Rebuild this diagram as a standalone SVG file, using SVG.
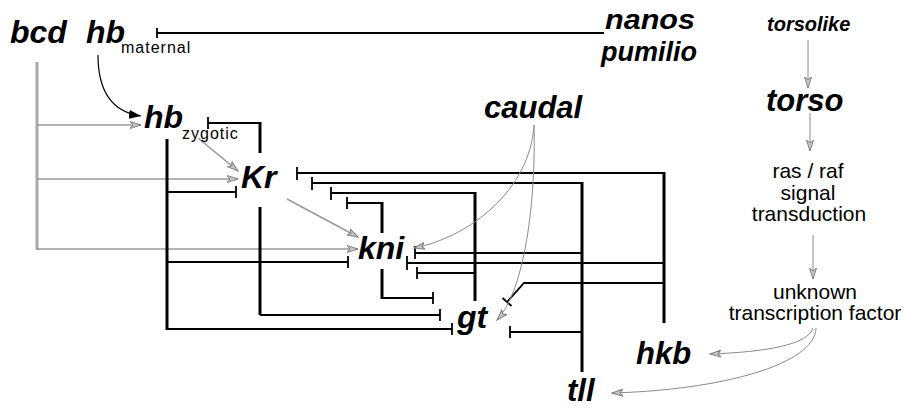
<svg xmlns="http://www.w3.org/2000/svg" width="903" height="408" viewBox="0 0 903 408">
<style>
.g{font-family:"Liberation Sans",Arial,sans-serif;font-weight:bold;font-style:italic;fill:#000}
.sub{font-family:"Liberation Sans",Arial,sans-serif;font-size:16px;letter-spacing:1px;fill:#000}
.r{font-family:"Liberation Sans",Arial,sans-serif;font-size:21px;fill:#000;text-anchor:middle}
.inh{fill:none;stroke:#000;stroke-width:1.8}
.thick{fill:none;stroke:#000;stroke-width:3}
.bar{fill:none;stroke:#000;stroke-width:1.8}
.act{fill:none;stroke:#9a9a9a;stroke-width:1.6}
.actv{fill:none;stroke:#a8a8a8;stroke-width:3}
.thin{fill:none;stroke:#8a8a8a;stroke-width:1}
</style>
<defs>
<marker id="ga" markerUnits="userSpaceOnUse" markerWidth="12" markerHeight="8" refX="11" refY="4" orient="auto">
<path d="M0,0.5 L11,4 L0,7.5 L3,4 z" fill="#c8c8c8" stroke="#808080" stroke-width="1"/>
</marker>
<marker id="ba" markerUnits="userSpaceOnUse" markerWidth="13" markerHeight="9" refX="12" refY="4.5" orient="auto">
<path d="M0,0 L12,4.5 L0,9 z" fill="#000"/>
</marker>
</defs>
<rect width="903" height="408" fill="#fff"/>

<g id="connectors">
<!-- nanos/pumilio -| hb maternal -->
<path class="inh" d="M157,33 H604"/>
<path class="bar" d="M157,28 V38"/>
<!-- hb maternal -> hb zygotic -->
<path d="M98,55 C98,92 112,112 141,116" fill="none" stroke="#000" stroke-width="1.2" marker-end="url(#ba)"/>
<!-- bcd activations -->
<path class="actv" d="M37,62 V250"/>
<path class="act" d="M37,125 H141" marker-end="url(#ga)"/>
<path class="act" d="M37,179 H238" marker-end="url(#ga)"/>
<path class="act" d="M37,249 H358" marker-end="url(#ga)"/>
<!-- hb zygotic -> Kr, Kr -> kni -->
<path class="act" d="M198,138 L238,171" marker-end="url(#ga)"/>
<path class="act" d="M287,199 L358,237" marker-end="url(#ga)"/>
<!-- Kr -| hb ; Kr -| gt -->
<path class="inh" d="M208,123 H260"/>
<path class="bar" d="M208,117 V129"/>
<path class="thick" d="M260,122 V153"/>
<path class="thick" d="M260,207 V315"/>
<path class="inh" d="M260,315 H440"/>
<path class="bar" d="M440,309 V321"/>
<!-- hb zygotic -| Kr, kni, gt -->
<path class="thick" d="M167,139 V330"/>
<path class="inh" d="M167,192 H236"/>
<path class="bar" d="M236,186 V198"/>
<path class="inh" d="M167,262 H348"/>
<path class="bar" d="M348,256 V268"/>
<path class="inh" d="M167,329 H452"/>
<path class="bar" d="M452,323 V335"/>
<!-- hkb -| Kr, kni, gt -->
<path class="thick" d="M664,172 V323"/>
<path class="inh" d="M297,173 H664"/>
<path class="bar" d="M297,167 V180"/>
<path class="inh" d="M407,263 H664"/>
<path class="bar" d="M407,256 V270"/>
<path class="inh" d="M664,283 H524 L507,302"/>
<path class="bar" d="M502.5,298 L511.5,306"/>
<!-- tll -| Kr, kni, gt -->
<path class="thick" d="M582,182 V372"/>
<path class="inh" d="M312,183 H582"/>
<path class="bar" d="M312,177 V190"/>
<path class="inh" d="M415,253 H582"/>
<path class="bar" d="M415,246 V259"/>
<path class="inh" d="M510,332 H582"/>
<path class="bar" d="M510,326 V338"/>
<!-- gt -| Kr, kni -->
<path class="thick" d="M475,192 V301"/>
<path class="inh" d="M331,193 H475"/>
<path class="bar" d="M331,187 V200"/>
<path class="inh" d="M417,273 H475"/>
<path class="bar" d="M417,267 V279"/>
<!-- kni -| Kr, gt -->
<path class="thick" d="M382,202 V233"/>
<path class="inh" d="M347,203 H382"/>
<path class="bar" d="M347,197 V209"/>
<path class="thick" d="M382,269 V299"/>
<path class="inh" d="M382,298 H433"/>
<path class="bar" d="M433,292 V304"/>
<!-- caudal -> kni, gt -->
<path class="thin" d="M534,125 C530,190 470,237 414,248" marker-end="url(#ga)"/>
<path class="thin" d="M534,125 C536,200 525,290 497,320" marker-end="url(#ga)"/>
<!-- terminal pathway -->
<path class="thin" d="M808,40 V88" marker-end="url(#ga)"/>
<path class="thin" d="M810,113 V151" marker-end="url(#ga)"/>
<path class="thin" d="M813,235 V279" marker-end="url(#ga)"/>
<path class="thin" d="M813,328 C808,345 765,352 710,354" marker-end="url(#ga)"/>
<path class="thin" d="M816,328 C815,365 720,390 612,393" marker-end="url(#ga)"/>
</g>

<g id="bcd"><text class="g" x="10" y="43" font-size="32">bcd</text></g>
<g id="hb_maternal"><text class="g" x="86" y="43" font-size="32">hb</text><text class="sub" x="121" y="53">maternal</text></g>
<g id="nanos_pumilio"><text class="g" x="605" y="29" font-size="28" textLength="90" lengthAdjust="spacingAndGlyphs">nanos</text><text class="g" x="601" y="61" font-size="28" textLength="96" lengthAdjust="spacingAndGlyphs">pumilio</text></g>
<g id="hb_zygotic"><text class="g" x="144" y="128" font-size="32">hb</text><text class="sub" x="182" y="139">zygotic</text></g>
<g id="Kr"><text class="g" x="241" y="188" font-size="32">Kr</text></g>
<g id="kni"><text class="g" x="358" y="259" font-size="32">kni</text></g>
<g id="gt"><text class="g" x="457" y="328" font-size="32">gt</text></g>
<g id="caudal"><text class="g" x="484" y="118" font-size="31">caudal</text></g>
<g id="hkb"><text class="g" x="636" y="364" font-size="31">hkb</text></g>
<g id="tll"><text class="g" x="567" y="401" font-size="31">tll</text></g>
<g id="torsolike"><text class="g" x="767" y="31" font-size="20">torsolike</text></g>
<g id="torso"><text class="g" x="766" y="111" font-size="31">torso</text></g>
<g id="ras_raf"><text class="r" x="808" y="178">ras / raf</text><text class="r" x="808" y="200">signal</text><text class="r" x="809" y="221">transduction</text></g>
<g id="unknown_tf"><text class="r" x="815" y="299">unknown</text><text class="r" x="815" y="320">transcription factor</text></g>
</svg>
